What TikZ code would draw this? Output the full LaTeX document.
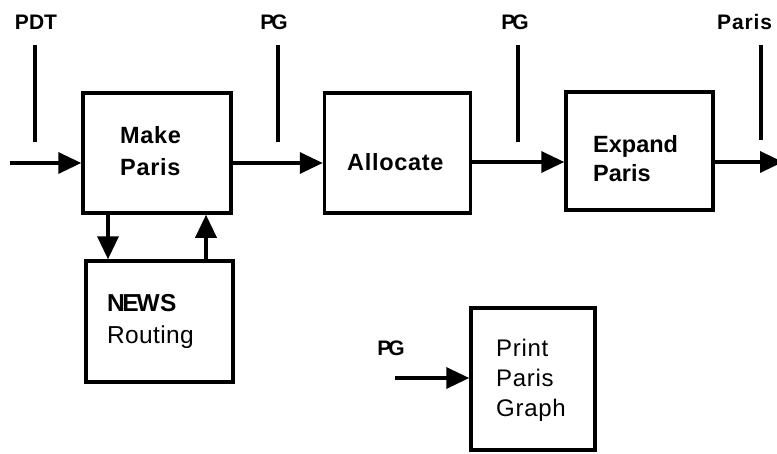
\documentclass[tikz,border=0pt]{standalone}
\usepackage{fontspec}
\setmainfont{Liberation Sans}
\usetikzlibrary{arrows.meta}
\begin{document}
\begin{tikzpicture}[x=1pt,y=-1pt,
  box/.style={draw,line width=3.5pt,inner sep=0pt},
  wire/.style={line width=3.5pt},
  arr/.style={line width=3.5pt,-{Triangle[length=23pt,width=21pt]}},
  lab/.style={font=\fontsize{21}{24}\selectfont\bfseries,inner sep=0pt},
  btxt/.style={font=\fontsize{23.5}{32}\selectfont\bfseries\addfontfeature{LetterSpace=3},align=left,inner sep=0pt,anchor=west},
  rtxt/.style={font=\fontsize{24}{30}\selectfont\addfontfeature{LetterSpace=3},align=left,inner sep=0pt,anchor=west}]
\useasboundingbox (0,0) rectangle (777,453);
% boxes
\node[box,minimum width=148pt,minimum height=120pt] (mp) at (157,153) {};
\node[box,minimum width=146pt,minimum height=120pt] (al) at (397.5,153) {};
\node[box,minimum width=147pt,minimum height=118pt] (ex) at (639.5,151) {};
\node[box,minimum width=147pt,minimum height=121pt] (nr) at (159.5,321.5) {};
\node[box,minimum width=124pt,minimum height=142pt] (pp) at (533,379) {};
% box texts
\node[btxt] (mpt) at (120,151) {Make\\Paris};
\node[btxt] (alt) at (347,162) {Allocate};
\node[btxt,font=\fontsize{23.5}{29}\selectfont\bfseries] (ext) at (593,159) {Expand\\Paris};
\node[rtxt,font=\fontsize{24.5}{32}\selectfont\addfontfeature{LetterSpace=1.5}] (nrt) at (107,321) {\bfseries N\kern-2.5ptE\kern-2ptWS\\Routing};
\node[rtxt] (ppt) at (496,380) {Print\\Paris\\Graph};
% labels
\node[lab] (pdt) at (36,22) {PDT};
\node[lab] (pg1) at (274,22) {P\kern-3ptG};
\node[lab] (pg2) at (515,22) {P\kern-3ptG};
\node[lab,anchor=west,font=\fontsize{21}{24}\selectfont\bfseries\addfontfeature{LetterSpace=4}] (pst) at (717,22) {Paris};
\node[lab] (pg3) at (391,348) {P\kern-3ptG};
% vertical tick lines
\coordinate (pdtA) at (35,45);  \coordinate (pdtB) at (35,142);
\coordinate (pg1A) at (278,45); \coordinate (pg1B) at (278,142);
\coordinate (pg2A) at (518,45); \coordinate (pg2B) at (518,142);
\coordinate (psA) at (761,45);  \coordinate (psB) at (761,140);
\draw[wire] (pdtA) -- (pdtB);
\draw[wire] (pg1A) -- (pg1B);
\draw[wire] (pg2A) -- (pg2B);
\draw[wire] (psA) -- (psB);
% flow arrows
\coordinate (in) at (10,163);
\coordinate (out) at (783,162);
\coordinate (pin) at (395,378);
\draw[arr] (in) -- (in -| mp.west);
\draw[arr] (mp.east |- in) -- (in -| al.west);
\draw[arr] (al.east |- 0,162) -- (ex.west |- 0,162);
\draw[arr] (ex.east |- out) -- (out);
\draw[arr] (pin) -- (pin -| pp.west);
% Make Paris <-> NEWS Routing
\draw[arr] (mp.south -| 108,0) -- (nr.north -| 108,0);
\draw[arr] (nr.north -| 206,0) -- (mp.south -| 206,0);
\end{tikzpicture}
\end{document}
